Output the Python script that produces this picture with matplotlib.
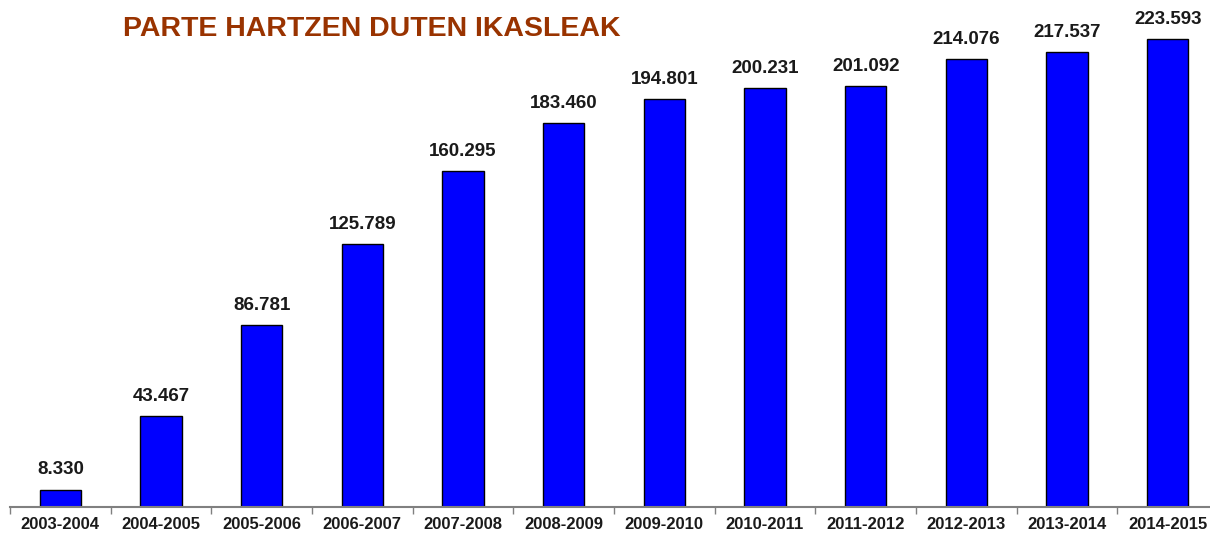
import matplotlib
matplotlib.use('Agg')
import matplotlib.pyplot as plt
import numpy as np

years = ['2003-2004', '2004-2005', '2005-2006', '2006-2007', '2007-2008', '2008-2009',
         '2009-2010', '2010-2011', '2011-2012', '2012-2013', '2013-2014', '2014-2015']
students = [8330, 43467, 86781, 125789, 160295, 183460,
            194801, 200231, 201092, 214076, 217537, 223593]
labels = ['8.330', '43.467', '86.781', '125.789', '160.295', '183.460',
          '194.801', '200.231', '201.092', '214.076', '217.537', '223.593']

plt.rcParams['font.family'] = ['Liberation Sans', 'DejaVu Sans']

fig = plt.figure(figsize=(12.1, 5.36), dpi=100)
ax = fig.add_axes([10/1210, 29/536, 1208/1210, 497/536])

x = np.arange(len(years))
bars = ax.bar(x, students, width=0.41, color='#0000ff', edgecolor='black', linewidth=1)

for b, lab in zip(bars, labels):
    ax.annotate(lab, (b.get_x() + b.get_width()/2, b.get_height()),
                xytext=(0, 8), textcoords='offset points',
                ha='center', va='bottom', fontsize=13.5, fontweight='bold', color='#1a1a1a')

ax.set_xlim(-0.5, len(years) - 0.5)
ax.set_ylim(0, 237450)

for s in ['top', 'right', 'left']:
    ax.spines[s].set_visible(False)
ax.spines['bottom'].set_color('#808080')
ax.spines['bottom'].set_linewidth(1.5)

ax.set_yticks([])
ax.set_xticks(x)
ax.set_xticklabels(years, fontsize=12, fontweight='bold', color='#1a1a1a')
ax.tick_params(axis='x', which='major', length=0, pad=7)
ax.set_xticks(np.arange(len(years)) - 0.5, minor=True)
ax.tick_params(axis='x', which='minor', length=5, width=1, color='#808080', direction='out')

fig.text(123/1210, 1 - 29/536, 'PARTE HARTZEN DUTEN IKASLEAK', fontsize=20.5,
         fontweight='heavy', color='#993300', ha='left', va='center')

fig.savefig('out.png', dpi=100)
